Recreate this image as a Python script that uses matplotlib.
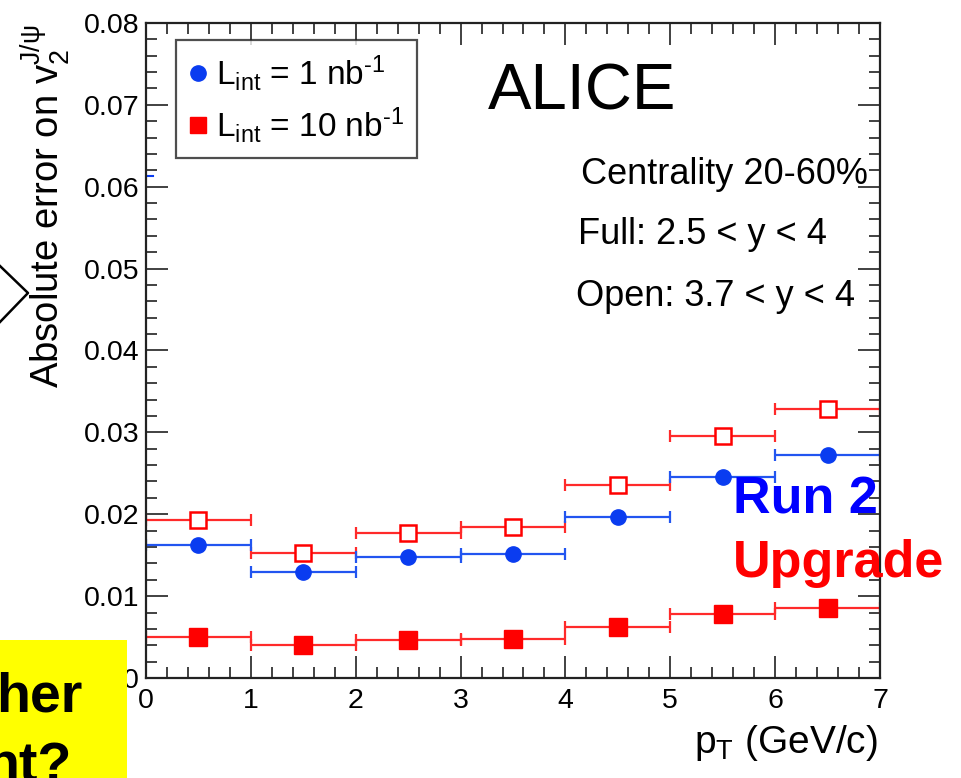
import numpy as np
import matplotlib
matplotlib.use("Agg")
import matplotlib.pyplot as plt
from matplotlib.lines import Line2D
from matplotlib.patches import Rectangle
from matplotlib.ticker import MultipleLocator, FuncFormatter

plt.rcParams['font.family'] = ['Liberation Sans', 'DejaVu Sans']
plt.rcParams['mathtext.fontset'] = 'custom'
plt.rcParams['mathtext.rm'] = 'Liberation Sans'
plt.rcParams['mathtext.it'] = 'Liberation Sans:italic'
plt.rcParams['mathtext.bf'] = 'Liberation Sans:bold'

# --- data ---
pt_centers = [0.5, 1.5, 2.5, 3.5, 4.5, 5.5, 6.5]
pt_halfwidth = [0.5] * 7
err_run2_1nb = [0.0162, 0.0129, 0.0148, 0.0152, 0.0197, 0.0245, 0.0272]
err_open_10nb = [0.0193, 0.0153, 0.0177, 0.0184, 0.0236, 0.0295, 0.0328]
err_full_10nb = [0.0050, 0.0040, 0.0047, 0.0048, 0.0062, 0.0078, 0.0086]
stub_y = 0.0613  # small blue stub on left axis

blue = '#0a3cf0'
red = '#ff0000'

fig = plt.figure(figsize=(9.61, 7.78), dpi=100)
ax = fig.add_axes([146 / 961, 1 - 678 / 778, (880 - 146) / 961, (678 - 23) / 778])

ekw = dict(fmt='none', elinewidth=1.6, capsize=4, capthick=1.6)

ax.errorbar(pt_centers, err_open_10nb, xerr=pt_halfwidth, ecolor='#ff2a2a', **ekw)
ax.errorbar(pt_centers, err_run2_1nb, xerr=pt_halfwidth, ecolor='#2255f0', **ekw)
ax.errorbar(pt_centers, err_full_10nb, xerr=pt_halfwidth, ecolor='#ff2a2a', **ekw)

ax.plot(pt_centers, err_open_10nb, 's', ms=12, mfc='white', mec=red, mew=1.8, zorder=5)
ax.plot(pt_centers, err_run2_1nb, 'o', ms=11, color=blue, zorder=5)
ax.plot(pt_centers, err_full_10nb, 's', ms=12.5, color=red, zorder=5)
ax.plot([0, 0.07], [stub_y, stub_y], color=blue, lw=1.5)

ax.set_xlim(0, 7)
ax.set_ylim(0, 0.08)

ax.xaxis.set_major_locator(MultipleLocator(1))
ax.xaxis.set_minor_locator(MultipleLocator(0.2))
ax.yaxis.set_major_locator(MultipleLocator(0.01))
ax.yaxis.set_minor_locator(MultipleLocator(0.002))
ax.yaxis.set_major_formatter(FuncFormatter(lambda v, p: '0' if abs(v) < 1e-9 else f'{v:.2f}'))

ax.tick_params(which='both', direction='in', top=True, right=True, color='#333333')
ax.tick_params(which='major', length=16, width=1.3, labelsize=20.5)
ax.tick_params(which='minor', length=8, width=1.3)
ax.tick_params(axis='x', which='major', pad=7)
ax.tick_params(axis='y', which='major', pad=5)
for s in ax.spines.values():
    s.set_linewidth(1.6)
    s.set_color('#222222')

# axis titles
fig.text(45 / 961, 1 - 24 / 778, r'Absolute error on v$_{\rm 2}^{\rm J/\psi}$',
         rotation=90, ha='center', va='top', fontsize=27.5)
fig.text(878 / 961, 1 - 743 / 778, r'p$_{\rm T}$ (GeV/c)', ha='right', va='center', fontsize=28)

# legend
handles = [Line2D([], [], marker='o', ls='none', ms=11, color=blue),
           Line2D([], [], marker='s', ls='none', ms=12, color=red)]
labels = [r'L$_{\rm int}$ = 1 nb$^{\text{-1}}$', r'L$_{\rm int}$ = 10 nb$^{\text{-1}}$']
leg = ax.legend(handles, labels, loc='upper left', bbox_to_anchor=(176 / 961, 1 - 40 / 778),
                bbox_transform=fig.transFigure, fontsize=24, frameon=True, fancybox=False,
                borderaxespad=0, handlelength=0.5, handletextpad=0.3, labelspacing=0.35,
                borderpad=0.4)
leg.get_frame().set_edgecolor('#222222')
leg.get_frame().set_linewidth(1.6)

# annotations
fig.text(488 / 961, 1 - 93 / 778, 'ALICE', fontsize=47, va='center', ha='left')
fig.text(868 / 961, 1 - 175 / 778, 'Centrality 20-60%', fontsize=26, ha='right', va='center')
fig.text(578 / 961, 1 - 234 / 778, r'Full: 2.5 < y < 4', fontsize=26, ha='left', va='center')
fig.text(576 / 961, 1 - 297 / 778, r'Open: 3.7 < y < 4', fontsize=26, ha='left', va='center')

fig.text(733 / 961, 1 - 513 / 778, 'Run 2', fontsize=37.5, fontweight='bold', color='#0000ff',
         ha='left', va='baseline')
fig.text(733 / 961, 1 - 577 / 778, 'Upgrade', fontsize=37.5, fontweight='bold', color='#ff0000',
         ha='left', va='baseline')

# slide leftovers: yellow box and arrow
fig.patches.append(Rectangle((0, 0), 127 / 961, 138 / 778, transform=fig.transFigure,
                             facecolor='#ffff00', edgecolor='none', zorder=0))
fig.text(82 / 961, 1 - 712 / 778, 'her', fontsize=40, fontweight='bold', ha='right', va='baseline')
fig.text(72 / 961, 1 - 781 / 778, 'nt?', fontsize=40, fontweight='bold', ha='right',
         va='baseline')
fig.add_artist(Line2D([0, 28 / 961, 0], [1 - 266 / 778, 1 - 293 / 778, 1 - 322 / 778],
                      transform=fig.transFigure, color='black', lw=1.8))

fig.savefig('out.png', dpi=100)
